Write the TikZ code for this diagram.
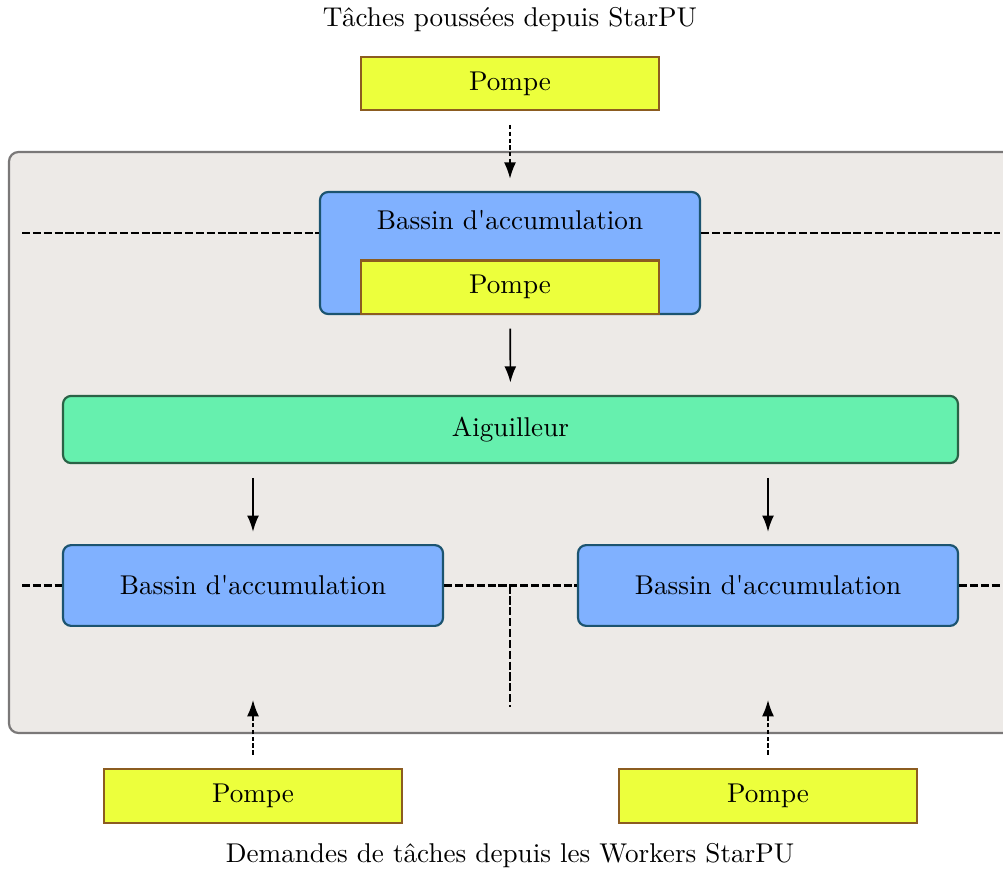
\documentclass[tikz,border=0pt]{standalone}
\usepackage{tikz}
\usetikzlibrary{positioning,arrows.meta}

\definecolor{pompefond}{RGB}{236,255,60}
\definecolor{pompebord}{RGB}{140,92,32}
\definecolor{bassinfond}{RGB}{128,177,255}
\definecolor{bassinbord}{RGB}{28,84,112}
\definecolor{aigfond}{RGB}{102,240,174}
\definecolor{aigbord}{RGB}{42,98,70}
\definecolor{boitefond}{RGB}{237,234,231}
\definecolor{boitebord}{RGB}{122,120,120}

\begin{document}
\begin{tikzpicture}[x=0.01294cm,y=-0.01294cm,
    pompe/.style={draw=pompebord,fill=pompefond,thick,inner sep=0pt,
      minimum width=3.856cm,minimum height=0.693cm},
    bassin/.style={draw=bassinbord,fill=bassinfond,thick,rounded corners=3pt,
      inner sep=0pt,minimum width=4.917cm},
    aiguilleur/.style={draw=aigbord,fill=aigfond,thick,rounded corners=3pt,
      inner sep=0pt,minimum width=11.58cm,minimum height=0.869cm},
    fleche/.style={-{Latex[length=6pt,width=4.4pt]},line width=0.6pt,shorten <=5pt,shorten >=4.5pt},
    pointille/.style={dash pattern=on 1.6pt off 0.9pt},
    mur/.style={line width=0.9pt,dash pattern=on 3pt off 1pt}]
  \useasboundingbox (0,0) rectangle (1003,870);

  % l'ordonnanceur
  \draw[draw=boitebord,fill=boitefond,thick,rounded corners=3.5pt] (9,152) rectangle (1014,733);

  \node (haut) at (510,20) {T\^aches pouss\'ees depuis StarPU};
  \node[pompe] (pompeT) at (510,83.5) {Pompe};

  \node[bassin,minimum height=1.578cm] (bassinH) at (510,253) {};
  \node at (510,220) {Bassin d\textquotesingle accumulation};
  \node[pompe,anchor=south] (pompeH) at (bassinH.south) {Pompe};

  \node[aiguilleur] (aig) at (510.5,429.5) {Aiguilleur};

  \node[bassin,minimum height=1.045cm] (bassinG) at (253,585.5) {Bassin d\textquotesingle accumulation};
  \node[bassin,minimum height=1.045cm] (bassinD) at (768,585.5) {Bassin d\textquotesingle accumulation};

  \node[pompe] (pompeG) at (253,796) {Pompe};
  \node[pompe] (pompeD) at (768,796) {Pompe};
  \node (bas) at (510,856) {Demandes de t\^aches depuis les Workers StarPU};

  % separations
  \coordinate (murHG) at (22,233);
  \coordinate (murHD) at (1000,233);
  \coordinate (murBG) at (22,585.5);
  \coordinate (murBD) at (1000,585.5);
  \coordinate (murM) at (510,585.5);
  \coordinate (murMb) at (510,707);
  \draw[mur] (murHG) -- (bassinH.west |- murHG);
  \draw[mur] (bassinH.east |- murHD) -- (murHD);
  \draw[mur] (murBG) -- (bassinG.west);
  \draw[mur] (bassinG.east) -- (bassinD.west);
  \draw[mur] (bassinD.east) -- (murBD);
  \draw[mur] (murM) -- (murMb);

  % flux des taches
  \coordinate (entreeG) at (253,700);
  \coordinate (entreeD) at (768,700);
  \draw[fleche,pointille] (pompeT) -- (bassinH);
  \draw[fleche] (bassinH) -- (aig);
  \draw[fleche] (aig.south -| bassinG) -- (bassinG);
  \draw[fleche] (aig.south -| bassinD) -- (bassinD);
  \draw[fleche,pointille,shorten >=0pt] (pompeG) -- (entreeG);
  \draw[fleche,pointille,shorten >=0pt] (pompeD) -- (entreeD);
\end{tikzpicture}
\end{document}
